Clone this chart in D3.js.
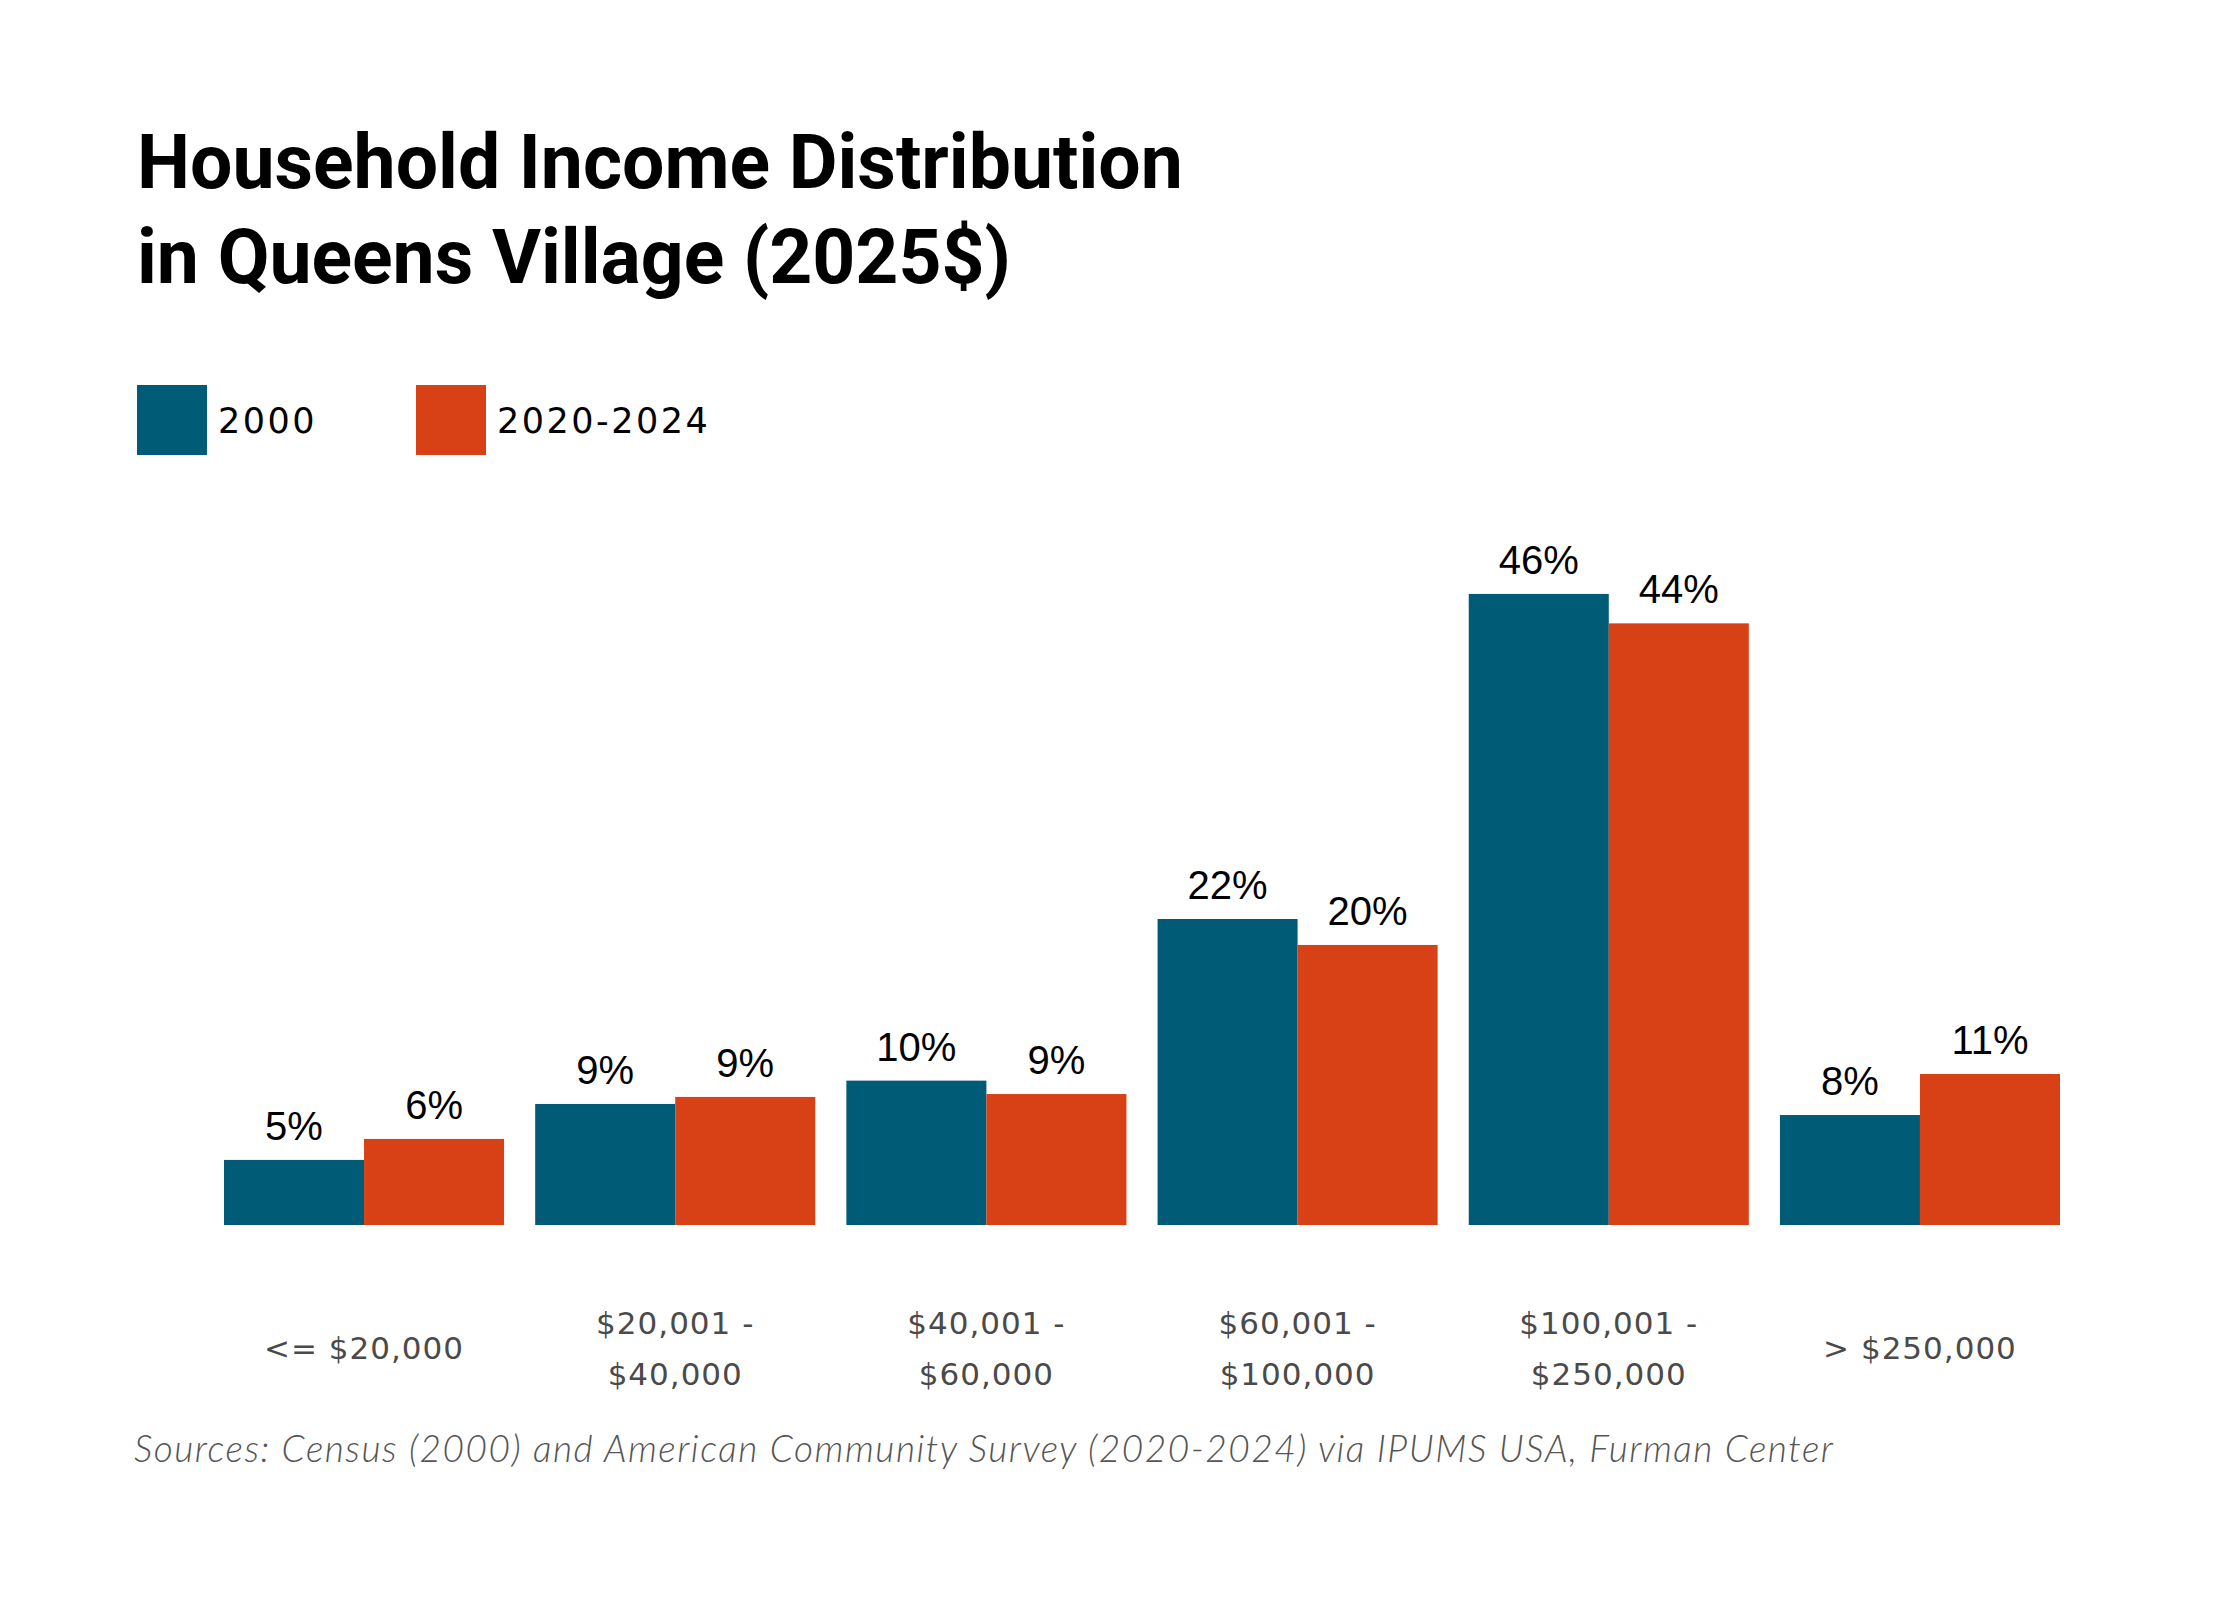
<!DOCTYPE html>
<html>
<head>
<meta charset="utf-8">
<script src="https://cdn.jsdelivr.net/npm/d3@7"></script>
<style>
  body { margin: 0; background: #fff; }
  svg { display: block; }
</style>
</head>
<body>
<div id="chart"></div>
<script>
// --- data ---
const categories = ["<= $20,000", "$20,001 - $40,000", "$40,001 - $60,000",
  "$60,001 - $100,000", "$100,001 - $250,000", "> $250,000"];
const tickLines = [
  ["<= $20,000"],
  ["$20,001 -", "$40,000"],
  ["$40,001 -", "$60,000"],
  ["$60,001 -", "$100,000"],
  ["$100,001 -", "$250,000"],
  ["> $250,000"],
];
const series = ["2000", "2020-2024"];
const values2000 = [4.71, 8.76, 10.45, 22.15, 45.68, 7.96];
const values2024 = [6.23, 9.27, 9.48, 20.27, 43.55, 10.93];
const colors = ["#005b76", "#d84115"];

const titleLines = ["Household Income Distribution", "in Queens Village (2025$)"];
const sourceText = "Sources: Census (2000) and American Community Survey (2020-2024) via IPUMS USA, Furman Center";

const W = 2240, H = 1600;
const baseY = 1225;

const svg = d3.select("#chart").append("svg")
  .attr("width", W).attr("height", H)
  .attr("viewBox", `0 0 ${W} ${H}`);

svg.append("rect").attr("width", W).attr("height", H).attr("fill", "#fff");

// --- title ---
const title = svg.append("text")
  .attr("font-family", "Roboto, 'Open Sans', sans-serif")
  .attr("font-weight", 700)
  .attr("font-size", 66)
  .attr("fill", "#000");
titleLines.forEach((t, i) => {
  title.append("tspan").attr("x", 137).attr("y", 188 + i * 95).text(t);
});
// fit line one to the reference width
const tw = title.select("tspan").node().getComputedTextLength();
title.attr("font-size", 66 * 1046 / tw);

// --- legend ---
const legendX = [137, 416];
const legend = svg.append("g");
series.forEach((s, i) => {
  legend.append("rect")
    .attr("x", legendX[i]).attr("y", 385)
    .attr("width", 70).attr("height", 70)
    .attr("fill", colors[i]);
  legend.append("text")
    .attr("x", legendX[i] + 81).attr("y", 433)
    .attr("font-family", "'DejaVu Sans', sans-serif")
    .attr("font-size", 35)
    .attr("letter-spacing", 2.5)
    .attr("fill", "#000")
    .text(s);
});

// --- scales ---
const x0 = d3.scaleBand().domain(categories).range([224, 2060]).paddingInner(0.1);
const x1 = d3.scaleBand().domain(series).range([0, x0.bandwidth()]);
const y = d3.scaleLinear().domain([0, 50]).range([baseY, baseY - 50 * 13.815]);

const rows = categories.map((c, i) => ({
  cat: c,
  vals: [
    { key: series[0], v: values2000[i] },
    { key: series[1], v: values2024[i] },
  ],
}));

const groups = svg.append("g").selectAll("g")
  .data(rows)
  .join("g")
  .attr("transform", d => `translate(${x0(d.cat)},0)`);

groups.selectAll("rect")
  .data(d => d.vals)
  .join("rect")
  .attr("x", d => x1(d.key))
  .attr("y", d => y(d.v))
  .attr("width", x1.bandwidth())
  .attr("height", d => y(0) - y(d.v))
  .attr("fill", (d, i) => colors[i]);

groups.selectAll("text.val")
  .data(d => d.vals)
  .join("text")
  .attr("class", "val")
  .attr("x", d => x1(d.key) + x1.bandwidth() / 2)
  .attr("y", d => y(d.v) - 20)
  .attr("text-anchor", "middle")
  .attr("font-family", "'Liberation Sans', Arial, sans-serif")
  .attr("font-size", 40)
  .attr("fill", "#000")
  .text(d => Math.round(d.v) + "%");

// --- x axis ---
const axis = svg.append("g")
  .attr("transform", `translate(0,${baseY})`)
  .call(d3.axisBottom(x0).tickSize(0).tickPadding(0));
axis.select(".domain").remove();
axis.selectAll(".tick text").each(function (d) {
  const lines = tickLines[categories.indexOf(d)];
  const t = d3.select(this)
    .text(null)
    .attr("y", 0).attr("dy", null)
    .attr("font-family", "'DejaVu Sans', sans-serif")
    .attr("font-size", 31)
    .attr("letter-spacing", 1)
    .attr("fill", "#4a4a4a");
  lines.forEach((l, i) => {
    t.append("tspan")
      .attr("x", 0)
      .attr("y", 134 + (i - (lines.length - 1) / 2) * 51)
      .text(l);
  });
});

// --- source ---
const src = svg.append("text")
  .attr("x", 134).attr("y", 1462)
  .attr("font-family", "Lato, 'Open Sans', sans-serif")
  .attr("font-style", "italic")
  .attr("font-weight", 300)
  .attr("font-size", 37)
  .attr("fill", "#555")
  .text(sourceText);
const sw = src.node().getComputedTextLength();
src.attr("letter-spacing", (1699 - sw) / (sourceText.length - 1));
</script>
</body>
</html>
